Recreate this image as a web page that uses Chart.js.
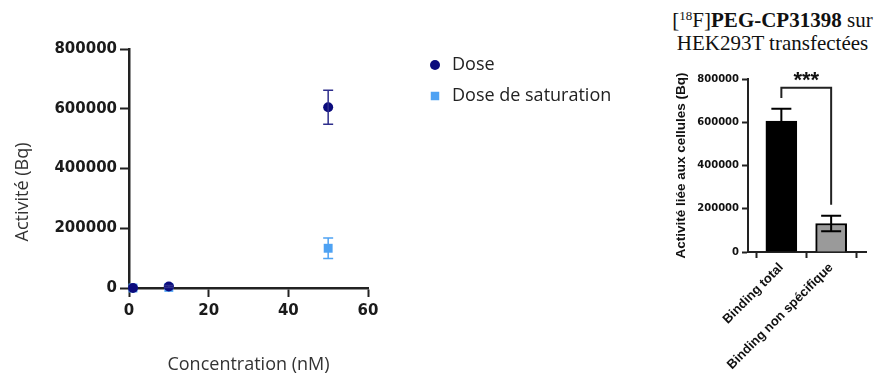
<!DOCTYPE html>
<html>
<head>
<meta charset="utf-8">
<title>Activité - Binding</title>
<script src="https://cdn.jsdelivr.net/npm/chart.js@4.4.1/dist/chart.umd.min.js"></script>
<style>
  html, body { margin: 0; padding: 0; background: #fff; overflow: hidden; }
  body { width: 875px; height: 374px; position: relative; }
  #scatterChart { position: absolute; left: 0; top: 0; }
  #barChart { position: absolute; left: 660px; top: 0; }
  #bar-title {
    position: absolute; left: 660px; top: 9px; width: 225px;
    text-align: center; color: #111;
    font-family: "Liberation Serif", "Times New Roman", serif;
    font-size: 21px; line-height: 23px;
  }
  #bar-title sup { font-size: 13px; line-height: 0; vertical-align: 7px; }
</style>
</head>
<body>
<canvas id="scatterChart" width="660" height="376"></canvas>
<div id="bar-title">[<sup>18</sup>F]<b>PEG-CP31398</b> sur<br>HEK293T transfectées</div>
<canvas id="barChart" width="215" height="374"></canvas>

<script>
// ----------------------------
// 1. Data
// ----------------------------
const concentrations = [1, 10, 50];
const doseValues = [0, 5000, 605000];
const doseErrors = [0, 3000, 57000];
const saturationValues = [0, 2000, 133000];
const saturationErrors = [0, 0, 34000];
const scatterXTicks = [0, 20, 40, 60];
const activityTicks = [0, 200000, 400000, 600000, 800000];

const barCategories = ['Binding total', 'Binding non spécifique'];
const barValues = [605000, 132000];
const barErrors = [58000, 36000];
const significanceLabel = '***';
const bracketTop = 760000;
const bracketLeftEnd = 712000;
const bracketRightEnd = 218000;

// ----------------------------
// 2. Plugins
// ----------------------------
const errorBarsPlugin = {
    id: 'errorBars',
    afterDatasetsDraw(chart) {
        const ctx = chart.ctx;
        const yScale = chart.scales.y;
        chart.data.datasets.forEach((ds, di) => {
            if (!ds.errors) return;
            const meta = chart.getDatasetMeta(di);
            ctx.save();
            ctx.strokeStyle = ds.errorColor || '#000';
            ctx.lineWidth = ds.errorWidth || 1.5;
            meta.data.forEach((el, i) => {
                const err = ds.errors[i];
                if (!err) return;
                const v = typeof ds.data[i] === 'object' ? ds.data[i].y : ds.data[i];
                const top = yScale.getPixelForValue(v + err);
                const bottom = yScale.getPixelForValue(v - err);
                const half = (ds.errorCap || 10) / 2;
                ctx.beginPath();
                ctx.moveTo(el.x, top); ctx.lineTo(el.x, bottom);
                ctx.moveTo(el.x - half, top); ctx.lineTo(el.x + half, top);
                ctx.moveTo(el.x - half, bottom); ctx.lineTo(el.x + half, bottom);
                ctx.stroke();
            });
            ctx.restore();
        });
    }
};

// legend to the right of the scatter plot, GraphPad style
const sideLegendPlugin = {
    id: 'sideLegend',
    afterDraw(chart, args, opts) {
        const ctx = chart.ctx;
        ctx.save();
        chart.data.datasets.forEach((ds, i) => {
            const x = opts.x;
            const y = opts.y + i * opts.spacing;
            ctx.fillStyle = ds.backgroundColor;
            Chart.helpers.drawPoint(ctx, {
                pointStyle: ds.pointStyle, radius: ds.legendRadius || ds.pointRadius,
                rotation: 0, borderWidth: 0
            }, x, y);
            ctx.fillStyle = '#222';
            ctx.font = opts.font;
            ctx.textBaseline = 'middle';
            ctx.textAlign = 'left';
            ctx.fillText(ds.label, x + 17, y);
        });
        ctx.restore();
    }
};

const sideTitlePlugin = {
    id: 'sideTitle',
    afterDraw(chart, args, opts) {
        const ctx = chart.ctx;
        ctx.save();
        ctx.translate(opts.x, opts.y);
        ctx.rotate(-Math.PI / 2);
        ctx.fillStyle = '#333';
        ctx.font = opts.font;
        ctx.textAlign = 'center';
        ctx.textBaseline = 'middle';
        ctx.fillText(opts.text, 0, 0);
        ctx.restore();
    }
};

const bracketPlugin = {
    id: 'bracket',
    afterDatasetsDraw(chart) {
        const ctx = chart.ctx;
        const x = chart.scales.x, y = chart.scales.y;
        const x1 = x.getPixelForValue(1), x2 = x.getPixelForValue(2);
        const yTop = y.getPixelForValue(bracketTop);
        ctx.save();
        ctx.strokeStyle = '#222';
        ctx.lineWidth = 2;
        ctx.beginPath();
        ctx.moveTo(x1, y.getPixelForValue(bracketLeftEnd));
        ctx.lineTo(x1, yTop);
        ctx.lineTo(x2, yTop);
        ctx.lineTo(x2, y.getPixelForValue(bracketRightEnd));
        ctx.stroke();
        ctx.fillStyle = '#111';
        ctx.font = 'bold 22px "Liberation Sans", Arial, sans-serif';
        ctx.textAlign = 'center';
        ctx.textBaseline = 'alphabetic';
        ctx.fillText(significanceLabel, (x1 + x2) / 2, yTop - 1);
        ctx.restore();
    }
};

const plainNumber = v => String(v);

// ----------------------------
// 3. Scatter chart (Activité vs Concentration)
// ----------------------------
function drawScatterChart() {
    const tickFont = { family: '"DejaVu Sans", sans-serif', size: 15, weight: 'bold' };
    const axisGrid = { drawOnChartArea: false, drawTicks: true, tickLength: 9, tickWidth: 2, tickColor: '#222' };
    const axisBorder = { display: true, color: '#222', width: 2.5 };

    new Chart(document.getElementById('scatterChart'), {
        type: 'scatter',
        data: {
            datasets: [{
                label: 'Dose',
                data: concentrations.map((c, i) => ({ x: c, y: doseValues[i] })),
                errors: doseErrors,
                backgroundColor: '#0b0b7d',
                borderWidth: 0,
                pointStyle: 'circle',
                pointRadius: 5,
                errorColor: '#2e2e8c',
                errorCap: 10,
                clip: false
            }, {
                label: 'Dose de saturation',
                data: concentrations.map((c, i) => ({ x: c, y: saturationValues[i] })),
                errors: saturationErrors,
                backgroundColor: '#4ea2f3',
                borderWidth: 0,
                pointStyle: 'rect',
                pointRadius: 6.3,
                legendRadius: 6,
                errorColor: '#4ea2f3',
                errorCap: 10,
                clip: false
            }]
        },
        options: {
            responsive: false,
            animation: false,
            layout: { padding: { left: 0, top: 49, right: 292, bottom: 0 } },
            plugins: {
                legend: { display: false },
                tooltip: { enabled: false },
                sideLegend: { x: 435, y: 65, spacing: 31, font: '18px "Open Sans", sans-serif' },
                sideTitle: { x: 23, y: 192, text: 'Activité (Bq)', font: '18px "Open Sans", sans-serif' }
            },
            scales: {
                x: {
                    type: 'linear',
                    min: 0, max: 60,
                    afterBuildTicks: s => { s.ticks = scatterXTicks.map(v => ({ value: v })); },
                    afterFit: s => { s.height = 88; },
                    ticks: { font: tickFont, color: '#1a1a1a', padding: 5, callback: plainNumber },
                    grid: axisGrid,
                    border: axisBorder,
                    title: {
                        display: true, text: 'Concentration (nM)', color: '#333',
                        font: { family: '"Open Sans", sans-serif', size: 18 },
                        padding: { top: 0, bottom: 0 }
                    }
                },
                y: {
                    min: 0, max: 800000,
                    afterBuildTicks: s => { s.ticks = activityTicks.map(v => ({ value: v })); },
                    afterFit: s => { s.width = 129; },
                    ticks: { font: tickFont, color: '#1a1a1a', padding: 3, callback: plainNumber },
                    grid: axisGrid,
                    border: axisBorder
                }
            }
        },
        plugins: [errorBarsPlugin, sideLegendPlugin, sideTitlePlugin]
    });
}

// ----------------------------
// 4. Bar chart (Binding total / non spécifique)
// ----------------------------
function drawBarChart() {
    const axisGrid = { drawOnChartArea: false, drawTicks: true, tickLength: 6, tickWidth: 2, tickColor: '#222' };
    const axisBorder = { display: true, color: '#222', width: 2 };

    new Chart(document.getElementById('barChart'), {
        type: 'bar',
        data: {
            datasets: [{
                data: barValues.map((v, i) => ({ x: i + 1, y: v })),
                errors: barErrors,
                backgroundColor: ['#000000', '#9a9a9a'],
                borderColor: '#000000',
                borderWidth: 2,
                barThickness: 31,
                errorColor: '#000',
                errorWidth: 2,
                errorCap: 20
            }]
        },
        options: {
            responsive: false,
            animation: false,
            layout: { padding: { left: 0, top: 79, right: 9, bottom: 0 } },
            plugins: {
                legend: { display: false },
                tooltip: { enabled: false }
            },
            scales: {
                x: {
                    type: 'linear',
                    offset: false,
                    min: 0.33, max: 2.7,
                    afterBuildTicks: s => { s.ticks = barCategories.map((c, i) => ({ value: i + 1 })); },
                    afterFit: s => { s.height = 122; },
                    ticks: {
                        autoSkip: false, maxRotation: 45, minRotation: 45, padding: 2,
                        color: '#111',
                        font: { family: '"Liberation Sans", Arial, sans-serif', size: 13, weight: 'bold' },
                        callback: v => barCategories[v - 1] || ''
                    },
                    grid: axisGrid,
                    border: axisBorder
                },
                y: {
                    min: 0, max: 800000,
                    afterBuildTicks: s => { s.ticks = activityTicks.map(v => ({ value: v })); },
                    afterFit: s => { s.width = 88; },
                    ticks: {
                        color: '#111', padding: 3, callback: plainNumber,
                        font: { family: '"DejaVu Sans", sans-serif', size: 10, weight: 'bold' }
                    },
                    grid: axisGrid,
                    border: axisBorder,
                    title: {
                        display: true, text: 'Activité liée aux cellules (Bq)', color: '#111',
                        font: { family: '"Liberation Sans", Arial, sans-serif', size: 13.5, weight: 'bold' },
                        padding: { top: 13, bottom: 0 }
                    }
                }
            }
        },
        plugins: [errorBarsPlugin, bracketPlugin]
    });
}

drawScatterChart();
drawBarChart();
</script>
</body>
</html>
